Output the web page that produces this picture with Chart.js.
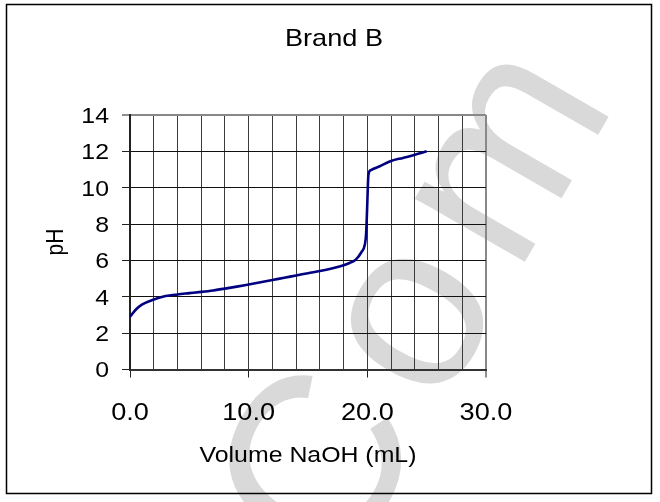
<!DOCTYPE html>
<html>
<head>
<meta charset="utf-8">
<script src="https://cdn.jsdelivr.net/npm/chart.js@4/dist/chart.umd.min.js"></script>
<style>
  html, body { margin: 0; padding: 0; background: #fff; }
  canvas { display: block; }
</style>
</head>
<body>
<canvas id="c" width="660" height="502"></canvas>
<script>
/* titration curve, Brand B */
const volume = [0, 0.5, 1, 2, 3, 4, 5, 6, 7, 8, 9, 10, 11, 12, 13, 14, 15, 16, 17, 18, 18.5, 19, 19.5, 19.8, 19.9, 20, 20.05, 20.1, 20.3, 21, 22, 23, 24, 25];
const pH     = [2.9, 3.3, 3.57, 3.85, 4.04, 4.13, 4.2, 4.27, 4.35, 4.45, 4.56, 4.68, 4.8, 4.92, 5.05, 5.17, 5.3, 5.42, 5.56, 5.73, 5.86, 6.03, 6.45, 6.9, 7.5, 9.2, 10.2, 10.75, 10.97, 11.17, 11.47, 11.64, 11.81, 12.0];

const xLabels = [0, 10, 20, 30];
const yLabels = [0, 2, 4, 6, 8, 10, 12, 14];

const FONT = '"Liberation Sans", Arial, sans-serif';
const SX = 1.13; // reference text is slightly wide

function drawText(ctx, txt, x, y, size, align, rot) {
  ctx.save();
  ctx.font = size + "px " + FONT;
  ctx.fillStyle = "#000";
  ctx.translate(x, y);
  if (rot) { ctx.rotate(rot); ctx.scale(1, SX); }
  else ctx.scale(SX, 1);
  ctx.textAlign = align;
  ctx.textBaseline = "alphabetic";
  ctx.fillText(txt, 0, 0);
  ctx.restore();
}

const decor = {
  id: "decor",
  beforeDraw(chart) {
    const ctx = chart.ctx;
    ctx.save();
    ctx.fillStyle = "#fff";
    ctx.fillRect(0, 0, chart.width, chart.height);
    // watermark, "o" centred near (418, 322)
    const em = 240;
    ctx.font = em + "px " + FONT;
    ctx.letterSpacing = "22px";
    const wC = ctx.measureText("C").width, wo = ctx.measureText("o").width;
    ctx.translate(418, 322);
    ctx.rotate(-60 * Math.PI / 180);
    ctx.fillStyle = "#d9d9d9";
    ctx.textAlign = "left";
    ctx.fillText("Com", -(wC + wo / 2 - 11), 0.26 * em);
    ctx.restore();
  },
  afterDraw(chart) {
    const ctx = chart.ctx;
    const xs = chart.scales.x, ys = chart.scales.y;
    ctx.save();
    ctx.strokeStyle = "#000";
    ctx.lineWidth = 1.5;
    ctx.strokeRect(6.5, 4.5, 645, 489);
    ctx.restore();

    drawText(ctx, "Brand B", 334, 46, 24, "center");
    xLabels.forEach(v => drawText(ctx, v.toFixed(1), xs.getPixelForValue(v), 419.5, 24, "center"));
    yLabels.forEach(v => drawText(ctx, String(v), 109, ys.getPixelForValue(v) + 7.9, 22, "right"));
    drawText(ctx, "Volume NaOH (mL)", 308, 462, 22, "center");
    drawText(ctx, "pH", 62.7, 242, 21, "center", -Math.PI / 2);
  }
};

new Chart(document.getElementById("c"), {
  type: "line",
  data: {
    datasets: [{
      data: volume.map((v, i) => ({ x: v, y: pH[i] })),
      borderColor: "#000080",
      borderWidth: 2.6,
      pointRadius: 0,
      fill: false,
      cubicInterpolationMode: "monotone"
    }]
  },
  options: {
    responsive: false,
    animation: false,
    devicePixelRatio: 1,
    layout: { padding: { top: 115, right: 174, left: 0, bottom: 0 } },
    plugins: { legend: { display: false }, tooltip: { enabled: false } },
    scales: {
      x: {
        type: "linear", min: 0, max: 30,
        ticks: { stepSize: 2, display: false },
        grid: {
          color: c => c.tick && c.tick.value === 30 ? "#888" : "#3c3c3c",
          lineWidth: c => c.tick && c.tick.value === 30 ? 2 : 1,
          tickLength: 8,
          tickColor: c => c.tick && c.tick.value % 10 === 0 ? "#222" : "rgba(0,0,0,0)",
          tickWidth: 1
        },
        border: { color: "#333", width: 2 },
        afterFit: s => { s.height = 132.5; }
      },
      y: {
        min: 0, max: 14,
        ticks: { stepSize: 2, display: false },
        grid: {
          color: c => c.tick && c.tick.value === 14 ? "#888" : "#111",
          lineWidth: c => c.tick && c.tick.value === 14 ? 2 : 1,
          tickLength: 8,
          tickColor: "#222",
          tickWidth: 1
        },
        border: { color: "#222", width: 2 },
        afterFit: s => { s.width = 130; }
      }
    }
  },
  plugins: [decor]
});
</script>
</body>
</html>
